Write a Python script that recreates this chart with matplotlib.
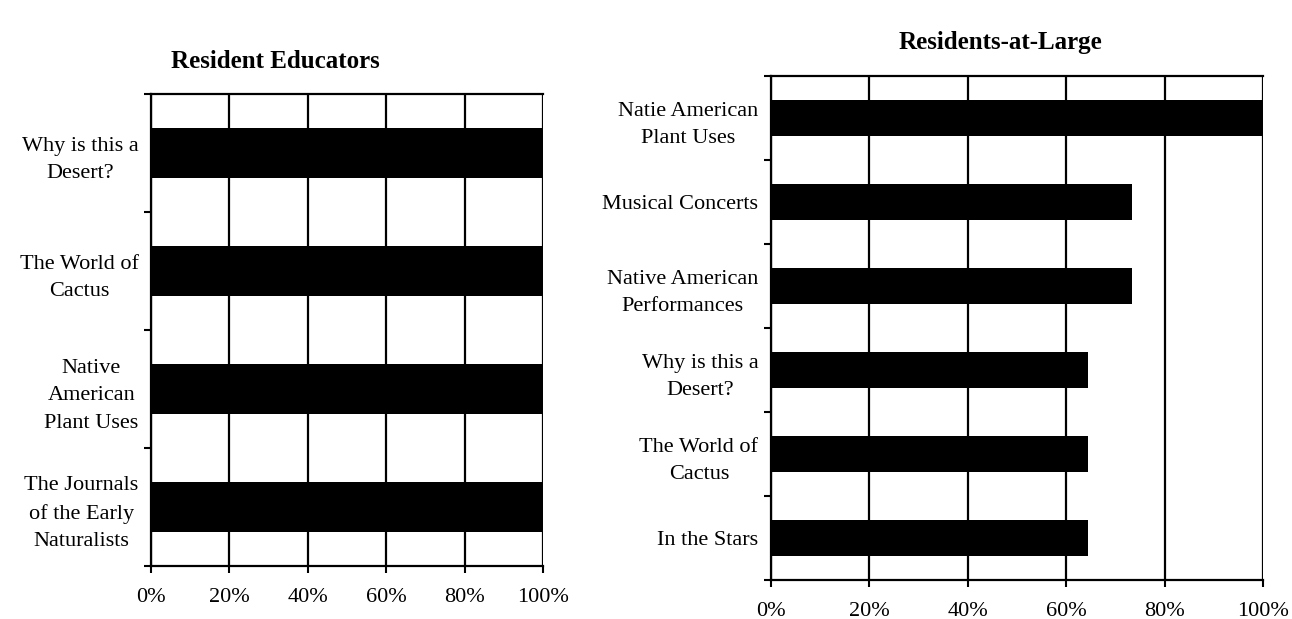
import matplotlib
matplotlib.use("Agg")

import matplotlib.pyplot as plt
import numpy as np

# Resident educators: share rating each program
educ_labels = ["Why is this a\nDesert?", "The World of\nCactus",
               "Native\nAmerican\nPlant Uses",
               "The Journals\nof the Early\nNaturalists"]
educ_values = [100, 100, 100, 100]

# Residents-at-large
large_labels = ["Natie American\nPlant Uses", "Musical Concerts",
                "Native American\nPerformances", "Why is this a\nDesert?",
                "The World of\nCactus", "In the Stars"]
large_values = [100, 73.3, 73.3, 64.4, 64.4, 64.4]

x_ticks = [0, 20, 40, 60, 80, 100]
x_ticklabels = ["0%", "20%", "40%", "60%", "80%", "100%"]

plt.rcParams["font.family"] = ["Liberation Serif", "DejaVu Serif"]

fig = plt.figure(figsize=(12.92, 6.19), dpi=100)
ax1 = fig.add_axes([0.1169, 0.0856, 0.3034, 0.7625])
ax2 = fig.add_axes([0.5967, 0.0630, 0.3808, 0.8142])


def draw_panel(ax, labels, values, title, title_xy):
    n = len(labels)
    pos = np.arange(n)
    ax.barh(pos, values, height=0.42, color="black", zorder=3)
    ax.set_xlim(0, 100)
    ax.set_ylim(n - 0.5, -0.5)
    ax.set_xticks(x_ticks)
    ax.set_xticklabels(x_ticklabels, fontsize=16)
    ax.set_yticks(pos)
    ax.set_yticklabels(labels, fontsize=16, linespacing=1.6)
    for t in ax.get_yticklabels():
        t.set_multialignment("center")
    ax.set_yticks(np.arange(n + 1) - 0.5, minor=True)
    ax.tick_params(axis="y", which="major", length=0, pad=9)
    ax.tick_params(axis="y", which="minor", length=5, width=1.5, direction="out")
    ax.tick_params(axis="x", length=5, width=1.5, direction="out", pad=11)
    ax.grid(axis="x", color="black", linewidth=1.6, zorder=1)
    for s in ["left", "bottom", "top"]:
        ax.spines[s].set_linewidth(1.6)
    ax.spines["right"].set_visible(False)
    fig.text(title_xy[0], title_xy[1], title, fontsize=18, fontweight="bold",
             ha="center", va="center")


draw_panel(ax1, educ_labels, educ_values, "Resident Educators", (0.213, 0.900))
draw_panel(ax2, large_labels, large_values, "Residents-at-Large", (0.774, 0.932))

plt.savefig("out.png", dpi=100)
